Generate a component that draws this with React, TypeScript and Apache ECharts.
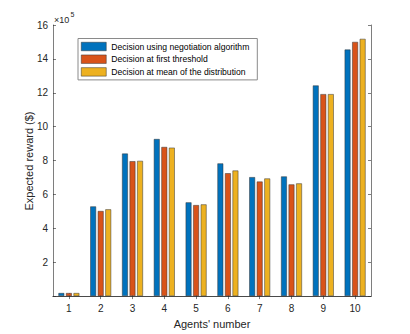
import React, { useEffect, useRef } from 'react';
import * as echarts from 'echarts';

const agents = ['1', '2', '3', '4', '5', '6', '7', '8', '9', '10'];
// values in units of 1e5
const negotiation = [0.18, 5.29, 8.41, 9.27, 5.53, 7.83, 7.02, 7.06, 12.43, 14.55];
const firstThreshold = [0.18, 5.02, 7.96, 8.8, 5.37, 7.25, 6.76, 6.59, 11.92, 15.0];
const meanDistribution = [0.18, 5.12, 7.98, 8.76, 5.41, 7.41, 6.94, 6.65, 11.92, 15.18];
const seriesNames = [
  'Decision using negotiation algorithm',
  'Decision at first threshold',
  'Decision at mean of the distribution',
];
const colors = ['#0072BD', '#D95319', '#EDB120'];
const yTicks = { min: 0, max: 16, interval: 2 };
const yTitle = 'Expected reward ($)';
const xTitle = "Agents' number";

const FONT = "'Liberation Sans', Arial, Helvetica, sans-serif";
const AXIS = '#262626';

export default function App() {
  const ref = useRef<HTMLDivElement>(null);
  useEffect(() => {
    if (!ref.current) return;
    const chart = echarts.init(ref.current, undefined, { renderer: 'svg' });
    const tickStyle = { show: true, inside: true, length: 3, lineStyle: { color: AXIS, width: 0.6 } };
    const lineStyle = { show: true, lineStyle: { color: AXIS, width: 0.6 } };
    const data = [negotiation, firstThreshold, meanDistribution];
    chart.setOption({
      animation: false,
      textStyle: { fontFamily: FONT },
      grid: { left: 53, right: 39, top: 25, bottom: 37, containLabel: false },
      legend: {
        orient: 'vertical',
        left: 78,
        top: 38.5,
        itemWidth: 25,
        itemHeight: 8.5,
        itemGap: 2.7,
        itemTextGap: 2,
        icon: 'rect',
        padding: [3, 8, 3, 3],
        borderColor: '#8a8a8a',
        borderWidth: 1,
        backgroundColor: '#ffffff',
        itemStyle: { borderWidth: 0.5, borderColor: '#333' },
        textStyle: { fontSize: 8.6, lineHeight: 10, color: '#000', fontFamily: FONT },
        data: seriesNames,
      },
      xAxis: [
        {
          type: 'category',
          data: agents,
          position: 'bottom',
          axisLine: lineStyle,
          axisTick: { ...tickStyle, alignWithLabel: true },
          axisLabel: { color: AXIS, fontSize: 10, margin: 7, fontFamily: FONT },
          name: xTitle,
          nameLocation: 'middle',
          nameGap: 19,
          nameTextStyle: { color: AXIS, fontSize: 11, fontFamily: FONT },
          splitLine: { show: false },
        },
        {
          type: 'category',
          data: agents,
          position: 'top',
          axisLine: lineStyle,
          axisTick: { ...tickStyle, alignWithLabel: true },
          axisLabel: { show: false },
          splitLine: { show: false },
        },
      ],
      yAxis: [
        {
          type: 'value',
          ...yTicks,
          position: 'left',
          axisLine: lineStyle,
          axisTick: tickStyle,
          axisLabel: {
            color: AXIS,
            fontSize: 10,
            margin: 5,
            fontFamily: FONT,
            formatter: (v: number) => (v === 0 ? '' : String(v)),
          },
          splitLine: { show: false },
        },
        {
          type: 'value',
          ...yTicks,
          position: 'right',
          axisLine: lineStyle,
          axisTick: tickStyle,
          axisLabel: { show: false },
          splitLine: { show: false },
        },
      ],
      series: data.map((d, i) => ({
        name: seriesNames[i],
        type: 'bar',
        xAxisIndex: 0,
        yAxisIndex: 0,
        data: d,
        barWidth: 5.8,
        barGap: '30%',
        itemStyle: { color: colors[i], borderColor: '#333', borderWidth: 0.5 },
      })),
      graphic: [
        {
          type: 'text',
          x: 29,
          y: 161,
          rotation: Math.PI / 2,
          style: {
            text: yTitle,
            fontSize: 11,
            fill: AXIS,
            fontFamily: FONT,
            align: 'center',
            verticalAlign: 'middle',
          },
        },
        {
          type: 'text',
          left: 54,
          top: 15,
          style: { text: '×10', fontSize: 9, fill: AXIS, fontFamily: FONT },
        },
        {
          type: 'text',
          left: 70.5,
          top: 11,
          style: { text: '5', fontSize: 7, fill: AXIS, fontFamily: FONT },
        },
      ],
    });
    return () => chart.dispose();
  }, []);
  return (
    <div
      ref={ref}
      style={{ position: 'fixed', left: 0, top: 0, width: 410, height: 334, background: '#fff' }}
    />
  );
}
